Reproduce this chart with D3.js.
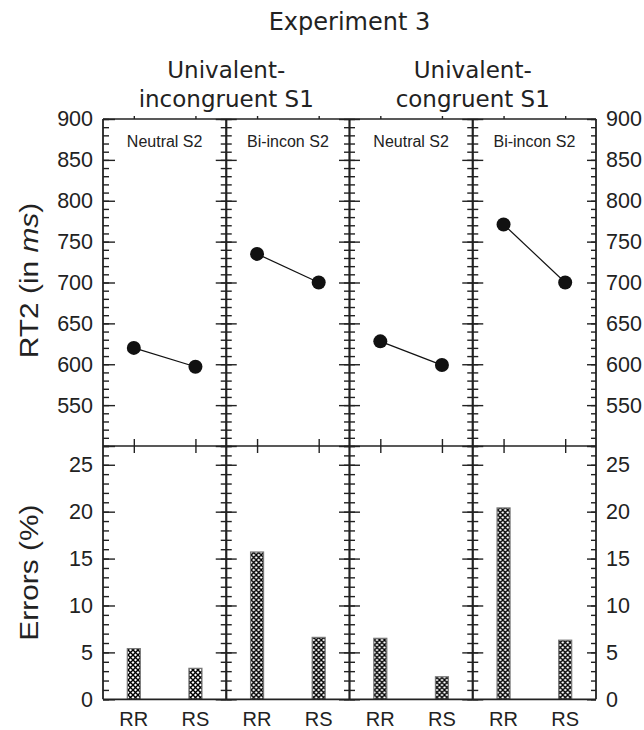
<!DOCTYPE html>
<html>
<head>
<meta charset="utf-8">
<script src="https://cdn.jsdelivr.net/npm/d3@7"></script>
<style>
  body { margin: 0; background: #fff; }
  svg text { fill: #222; }
</style>
</head>
<body>
<svg width="644" height="730"></svg>
<script>
// data
var groups = [["Univalent-", "incongruent S1"], ["Univalent-", "congruent S1"]];
var panels = ["Neutral S2", "Bi-incon S2", "Neutral S2", "Bi-incon S2"];
var conditions = ["RR", "RS"];
var rtValues = [[620, 597], [735, 700], [628, 599], [771, 700]];
var errValues = [[5.4, 3.3], [15.7, 6.6], [6.5, 2.4], [20.4, 6.3]];
var rtTicks = [550, 600, 650, 700, 750, 800, 850, 900];
var errTicks = [0, 5, 10, 15, 20, 25];

var svg = d3.select("svg");
var left = 103, right = 596;
var plotTop = 119, plotMid = 446, plotBottom = 699.3;
var numFont = "'Liberation Sans', Arial, sans-serif";
var titleFont = "'DejaVu Sans', Verdana, sans-serif";

var xPanel = d3.scaleBand().domain(d3.range(panels.length)).range([left, right]);
var xCond = d3.scalePoint().domain(conditions).range([0, xPanel.bandwidth()]).padding(0.5);
var yRT = d3.scaleLinear().domain([500, 900]).range([plotMid, plotTop]);
var yErr = d3.scaleLinear().domain([0, 27]).range([plotBottom, plotMid]);

var rtMinor = d3.range(500, 901, 10);
var rtMajor = d3.range(500, 901, 50);
var errMinor = d3.range(0, 28, 1);
var errMajor = d3.range(0, 26, 5);

// crosshatch pattern for the bars
var defs = svg.append("defs");
var pat = defs.append("pattern").attr("id", "hatch").attr("patternUnits", "userSpaceOnUse")
    .attr("width", 5).attr("height", 5);
pat.append("rect").attr("width", 5).attr("height", 5).attr("fill", "#fff");
pat.append("path").attr("d", "M0,0L5,5M5,0L0,5").attr("stroke", "#000").attr("stroke-width", 1.4);

// helper to draw tick-only axes
function ticksOnly(axis, g) {
    g.call(axis);
    g.select(".domain").remove();
    g.selectAll("line").attr("stroke", "#222").attr("stroke-width", 1.4);
    g.selectAll("text").remove();
}

// panels: bars and points
panels.forEach(function (name, i) {
    var g = svg.append("g").attr("transform", "translate(" + xPanel(i) + ",0)");

    g.selectAll("rect.bar")
        .data(errValues[i])
        .enter()
        .append("rect")
        .attr("class", "bar")
        .attr("x", function (d, j) { return xCond(conditions[j]) - 6.5; })
        .attr("width", 13)
        .attr("y", function (d) { return yErr(d); })
        .attr("height", function (d) { return plotBottom - yErr(d); })
        .attr("fill", "url(#hatch)")
        .attr("stroke", "#777")
        .attr("stroke-width", 1.2);

    var line = d3.line()
        .x(function (d, j) { return xCond(conditions[j]); })
        .y(function (d) { return yRT(d); });
    g.append("path").datum(rtValues[i]).attr("d", line)
        .attr("fill", "none").attr("stroke", "#111").attr("stroke-width", 1.2);
    g.selectAll("circle")
        .data(rtValues[i])
        .enter()
        .append("circle")
        .attr("cx", function (d, j) { return xCond(conditions[j]); })
        .attr("cy", function (d) { return yRT(d); })
        .attr("r", 7)
        .attr("fill", "#111");

    g.append("text")
        .attr("x", xPanel.bandwidth() / 2)
        .attr("y", 146.5)
        .attr("text-anchor", "middle")
        .style("font-family", numFont)
        .style("font-size", "16px")
        .text(name);

    // category ticks crossing the middle line, small ones on the top line
    var xa = d3.axisBottom(xCond).tickSizeInner(14).tickSizeOuter(0);
    ticksOnly(xa, g.append("g").attr("transform", "translate(0," + (plotMid - 7) + ")"));
    ticksOnly(d3.axisTop(xCond).tickSize(3).tickSizeOuter(0), g.append("g").attr("transform", "translate(0," + plotTop + ")"));

    // category labels
    g.selectAll("text.cond")
        .data(conditions)
        .enter()
        .append("text")
        .attr("class", "cond")
        .attr("x", function (d) { return xCond(d); })
        .attr("y", 726)
        .attr("text-anchor", "middle")
        .style("font-family", numFont)
        .style("font-size", "20px")
        .text(function (d) { return d; });
});

// frame lines
svg.append("line").attr("x1", left).attr("x2", right).attr("y1", plotTop).attr("y2", plotTop)
    .attr("stroke", "#222").attr("stroke-width", 1.5);
svg.append("line").attr("x1", left).attr("x2", right).attr("y1", plotMid).attr("y2", plotMid)
    .attr("stroke", "#222").attr("stroke-width", 1.5);
svg.append("line").attr("x1", left).attr("x2", right).attr("y1", plotBottom).attr("y2", plotBottom)
    .attr("stroke", "#222").attr("stroke-width", 1.8);

// vertical axes: left edge, dividers, right edge
var edges = d3.range(panels.length + 1).map(function (k) {
    return k < panels.length ? xPanel(k) : right;
});
edges.forEach(function (x, k) {
    svg.append("line").attr("x1", x).attr("x2", x).attr("y1", plotTop).attr("y2", plotBottom)
        .attr("stroke", "#222").attr("stroke-width", k === 0 || k === edges.length - 1 ? 1.8 : 2.2);
    var sets = [[yRT, rtMinor, rtMajor], [yErr, errMinor, errMajor]];
    var sides;
    if (k === 0) sides = [[d3.axisRight, 6, 12]];
    else if (k === edges.length - 1) sides = [[d3.axisLeft, 5, 9]];
    else sides = [[d3.axisRight, 5.5, 10.5], [d3.axisLeft, 5.5, 10.5]];
    sets.forEach(function (s) {
        sides.forEach(function (sd) {
            var minorA = sd[0](s[0]).tickValues(s[1]).tickSize(sd[1]).tickSizeOuter(0);
            var majorA = sd[0](s[0]).tickValues(s[2]).tickSize(sd[2]).tickSizeOuter(0);
            ticksOnly(minorA, svg.append("g").attr("transform", "translate(" + x + ",0)"));
            ticksOnly(majorA, svg.append("g").attr("transform", "translate(" + x + ",0)"));
        });
    });
});

// tick labels on both outer sides
function labelAxis(axis, x) {
    var g = svg.append("g").attr("transform", "translate(" + x + ",0)").call(axis);
    g.select(".domain").remove();
    g.selectAll("line").remove();
    g.selectAll("text").style("font-family", numFont).style("font-size", "21.5px").attr("fill", "#222");
}
labelAxis(d3.axisLeft(yRT).tickValues(rtTicks).tickSize(0).tickPadding(10), left);
labelAxis(d3.axisLeft(yErr).tickValues(errTicks).tickSize(0).tickPadding(10), left);
labelAxis(d3.axisRight(yRT).tickValues(rtTicks).tickSize(0).tickPadding(10), right);
labelAxis(d3.axisRight(yErr).tickValues(errTicks).tickSize(0).tickPadding(10), right);

// titles
svg.append("text").attr("x", (left + right) / 2).attr("y", 30).attr("text-anchor", "middle")
    .style("font-family", titleFont).style("font-size", "24px").text("Experiment 3");
groups.forEach(function (lines, k) {
    var cx = xPanel(k * 2) + xPanel.bandwidth();
    lines.forEach(function (t, j) {
        svg.append("text").attr("x", cx).attr("y", 78 + j * 29).attr("text-anchor", "middle")
            .style("font-family", titleFont).style("font-size", "23px").text(t);
    });
});

// y axis titles
var rtLab = svg.append("text").attr("transform", "translate(38," + ((plotTop + plotMid) / 2 - 2) + ") rotate(-90) scale(1.15,1)")
    .attr("text-anchor", "middle").style("font-family", numFont).style("font-size", "26px");
rtLab.append("tspan").text("RT2 (in ");
rtLab.append("tspan").style("font-style", "italic").text("ms");
rtLab.append("tspan").text(")");
svg.append("text").attr("transform", "translate(38," + ((plotMid + plotBottom) / 2) + ") rotate(-90) scale(1.15,1)")
    .attr("text-anchor", "middle").style("font-family", numFont).style("font-size", "26px")
    .text("Errors (%)");
</script>
</body>
</html>
